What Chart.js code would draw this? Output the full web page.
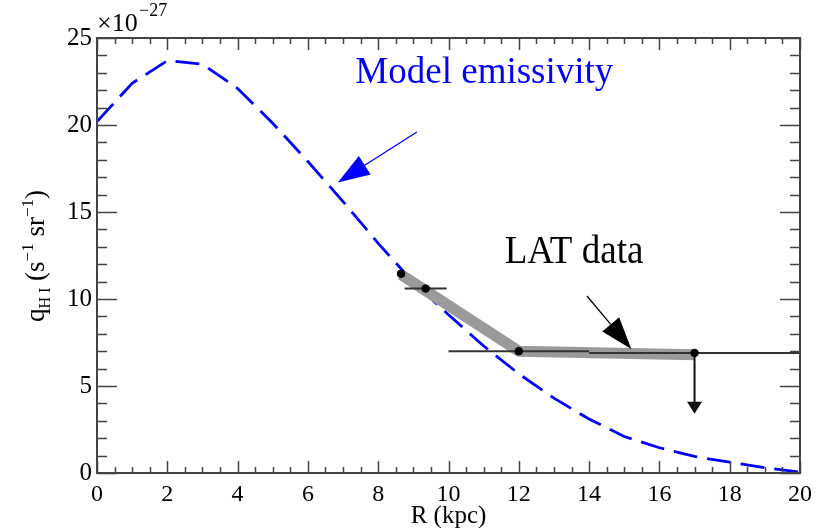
<!DOCTYPE html>
<html>
<head>
<meta charset="utf-8">
<script src="https://cdn.jsdelivr.net/npm/chart.js@4.4.1/dist/chart.umd.min.js"></script>
<style>
  html, body { margin: 0; padding: 0; background: #fff; }
  #wrap { width: 819px; height: 528px; position: relative; }
</style>
</head>
<body>
<div id="wrap"><canvas id="emis"></canvas></div>
<script>
// --- Data ---
const radius = [0, 1, 2, 3, 4, 5, 6, 7, 8, 9, 10, 11, 12, 13, 14, 15, 16, 17, 18, 19, 20];
const modelQ = [20.2, 22.4, 23.7, 23.5, 22.1, 20.1, 17.9, 15.6, 13.2, 10.95, 9.1, 7.3, 5.7, 4.3, 3.1, 2.1, 1.45, 0.95, 0.62, 0.3, 0.05];

const latR  = [8.65, 9.35, 12, 17];
const latQ  = [11.45, 10.6, 7.0, 6.9];
const latLo = [null, 8.75, 10, 14];
const latHi = [null, 9.95, 14, 20];

const bandR = [8.65, 12, 17];
const bandQ = [11.4, 7.0, 6.8];

const limitR = 17;
const limitTo = 3.4;

const xTicks = [0, 2, 4, 6, 8, 10, 12, 14, 16, 18, 20];
const yTicks = [0, 5, 10, 15, 20, 25];

const SERIF = "'Liberation Serif', 'Times New Roman', serif";

const pts = (xs, ys) => xs.map((x, i) => ({ x: x, y: ys[i] }));

// error bars + upper limit as plain line datasets
const barSets = [];
latR.forEach((r, i) => {
    if (latLo[i] === null) return;
    barSets.push({
        data: [{ x: latLo[i], y: latQ[i] }, { x: latHi[i], y: latQ[i] }],
        borderColor: '#333', borderWidth: 2, pointRadius: 0, showLine: true, order: 1
    });
});
barSets.push({
    data: [{ x: limitR, y: 6.9 }, { x: limitR, y: limitTo + 0.4 }],
    borderColor: '#111', borderWidth: 2, pointRadius: 0, showLine: true, order: 1
});

// --- helpers for drawing on the canvas ---
function arrow(ctx, x0, y0, x1, y1, color, lw, headLen, headW) {
    const ang = Math.atan2(y1 - y0, x1 - x0);
    const bx = x1 - headLen * Math.cos(ang), by = y1 - headLen * Math.sin(ang);
    ctx.save();
    ctx.strokeStyle = color; ctx.fillStyle = color; ctx.lineWidth = lw;
    ctx.beginPath(); ctx.moveTo(x0, y0); ctx.lineTo(bx, by); ctx.stroke();
    ctx.beginPath();
    ctx.moveTo(x1, y1);
    ctx.lineTo(bx + headW * Math.sin(ang), by - headW * Math.cos(ang));
    ctx.lineTo(bx - headW * Math.sin(ang), by + headW * Math.cos(ang));
    ctx.closePath(); ctx.fill();
    ctx.restore();
}

function label(ctx, txt, x, y, size, align, color, sy) {
    ctx.save();
    ctx.translate(x, y);
    ctx.scale(1, sy || 1);
    ctx.font = size + 'px ' + SERIF;
    ctx.textAlign = align;
    ctx.textBaseline = 'alphabetic';
    ctx.fillStyle = color;
    ctx.fillText(txt, 0, 0);
    ctx.restore();
}

const framePlugin = {
    id: 'frame',
    afterDatasetsDraw(chart) {
        const { ctx, chartArea: a, scales: { x, y } } = chart;
        ctx.save();
        ctx.strokeStyle = '#444';
        ctx.lineWidth = 2;
        ctx.strokeRect(a.left, a.top, a.right - a.left, a.bottom - a.top);

        ctx.lineWidth = 1.5;
        ctx.beginPath();
        // x ticks (bottom and top), inward
        for (let v = 0; v <= 20.001; v += 0.5) {
            const px = Math.round(x.getPixelForValue(v)) + 0.5;
            const len = (Math.abs(v / 2 - Math.round(v / 2)) < 1e-6) ? 12 : 6;
            ctx.moveTo(px, a.bottom); ctx.lineTo(px, a.bottom - len);
            ctx.moveTo(px, a.top); ctx.lineTo(px, a.top + len);
        }
        // y ticks (left and right), inward
        for (let v = 0; v <= 25.001; v += 1) {
            const py = Math.round(y.getPixelForValue(v)) + 0.5;
            const len = (v % 5 === 0) ? 20 : 10;
            ctx.moveTo(a.left, py); ctx.lineTo(a.left + len, py);
            ctx.moveTo(a.right, py); ctx.lineTo(a.right - len, py);
        }
        ctx.stroke();

        // upper-limit arrow head
        const lx = x.getPixelForValue(limitR), ly = y.getPixelForValue(limitTo);
        ctx.fillStyle = '#111';
        ctx.beginPath();
        ctx.moveTo(lx, ly); ctx.lineTo(lx - 7.5, ly - 12); ctx.lineTo(lx + 7.5, ly - 12);
        ctx.closePath(); ctx.fill();

        // annotations
        arrow(ctx, x.getPixelForValue(9.1), y.getPixelForValue(19.6),
              x.getPixelForValue(6.85), y.getPixelForValue(16.7), '#0000ff', 1.3, 32, 11);
        arrow(ctx, x.getPixelForValue(13.94), y.getPixelForValue(10.17),
              x.getPixelForValue(15.2), y.getPixelForValue(7.13), '#000', 1.3, 32, 11);

        label(ctx, 'Model emissivity', x.getPixelForValue(11.02), y.getPixelForValue(22.41), 37, 'center', '#0000ff');
        label(ctx, 'LAT data', x.getPixelForValue(13.57), y.getPixelForValue(12.05), 37, 'center', '#000', 1.06);

        // exponent above the y axis
        label(ctx, '\u00d710', a.left, 31, 26, 'left', '#000');
        label(ctx, '\u221227', a.left + 42, 16, 18, 'left', '#000');

        // y axis title, rotated
        ctx.fillStyle = '#000';
        ctx.translate(44, 256);
        ctx.rotate(-Math.PI / 2);
        const parts = [
            ['q', 27, 0], ['H I', 16, 6], [' (s', 27, 0], ['\u22121', 17, -11],
            [' sr', 27, 0], ['\u22121', 17, -11], [')', 27, 0]
        ];
        let w = 0;
        parts.forEach(p => { ctx.font = p[1] + 'px ' + SERIF; w += ctx.measureText(p[0]).width; });
        let cx = -w / 2;
        parts.forEach(p => {
            ctx.font = p[1] + 'px ' + SERIF;
            ctx.fillText(p[0], cx, p[2]);
            cx += ctx.measureText(p[0]).width;
        });
        ctx.restore();
    }
};

new Chart(document.getElementById('emis'), {
    type: 'scatter',
    data: {
        datasets: [
            {
                data: pts(latR, latQ),
                backgroundColor: '#000', borderColor: '#000',
                pointRadius: 3.8, showLine: false, order: 0
            },
            ...barSets,
            {
                data: pts(bandR, bandQ),
                borderColor: '#9a9a9a', borderWidth: 11, pointRadius: 0,
                showLine: true, borderJoinStyle: 'round', order: 2
            },
            {
                data: pts(radius, modelQ),
                borderColor: '#0000ff', borderWidth: 2.8, borderDash: [24, 10],
                pointRadius: 0, showLine: true, order: 3
            }
        ]
    },
    options: {
        responsive: true,
        maintainAspectRatio: false,
        animation: false,
        layout: { padding: { top: 38, right: 12, left: 0, bottom: 0 } },
        plugins: { legend: { display: false }, tooltip: { enabled: false } },
        scales: {
            x: {
                type: 'linear', min: 0, max: 20,
                afterFit: s => { s.height = 55; },
                afterBuildTicks: s => { s.ticks = xTicks.map(v => ({ value: v })); },
                grid: { display: false, drawTicks: false },
                border: { display: false },
                ticks: { color: '#000', padding: 7, maxRotation: 0, font: { family: SERIF, size: 24 } },
                title: { display: true, text: 'R (kpc)', color: '#000', padding: { top: 0, bottom: -3 },
                         font: { family: SERIF, size: 25 } }
            },
            y: {
                type: 'linear', min: 0, max: 25,
                afterFit: s => { s.width = 97; },
                afterBuildTicks: s => { s.ticks = yTicks.map(v => ({ value: v })); },
                grid: { display: false, drawTicks: false },
                border: { display: false },
                ticks: { color: '#000', padding: 5, font: { family: SERIF, size: 25 } }
            }
        }
    },
    plugins: [framePlugin]
});
</script>
</body>
</html>
